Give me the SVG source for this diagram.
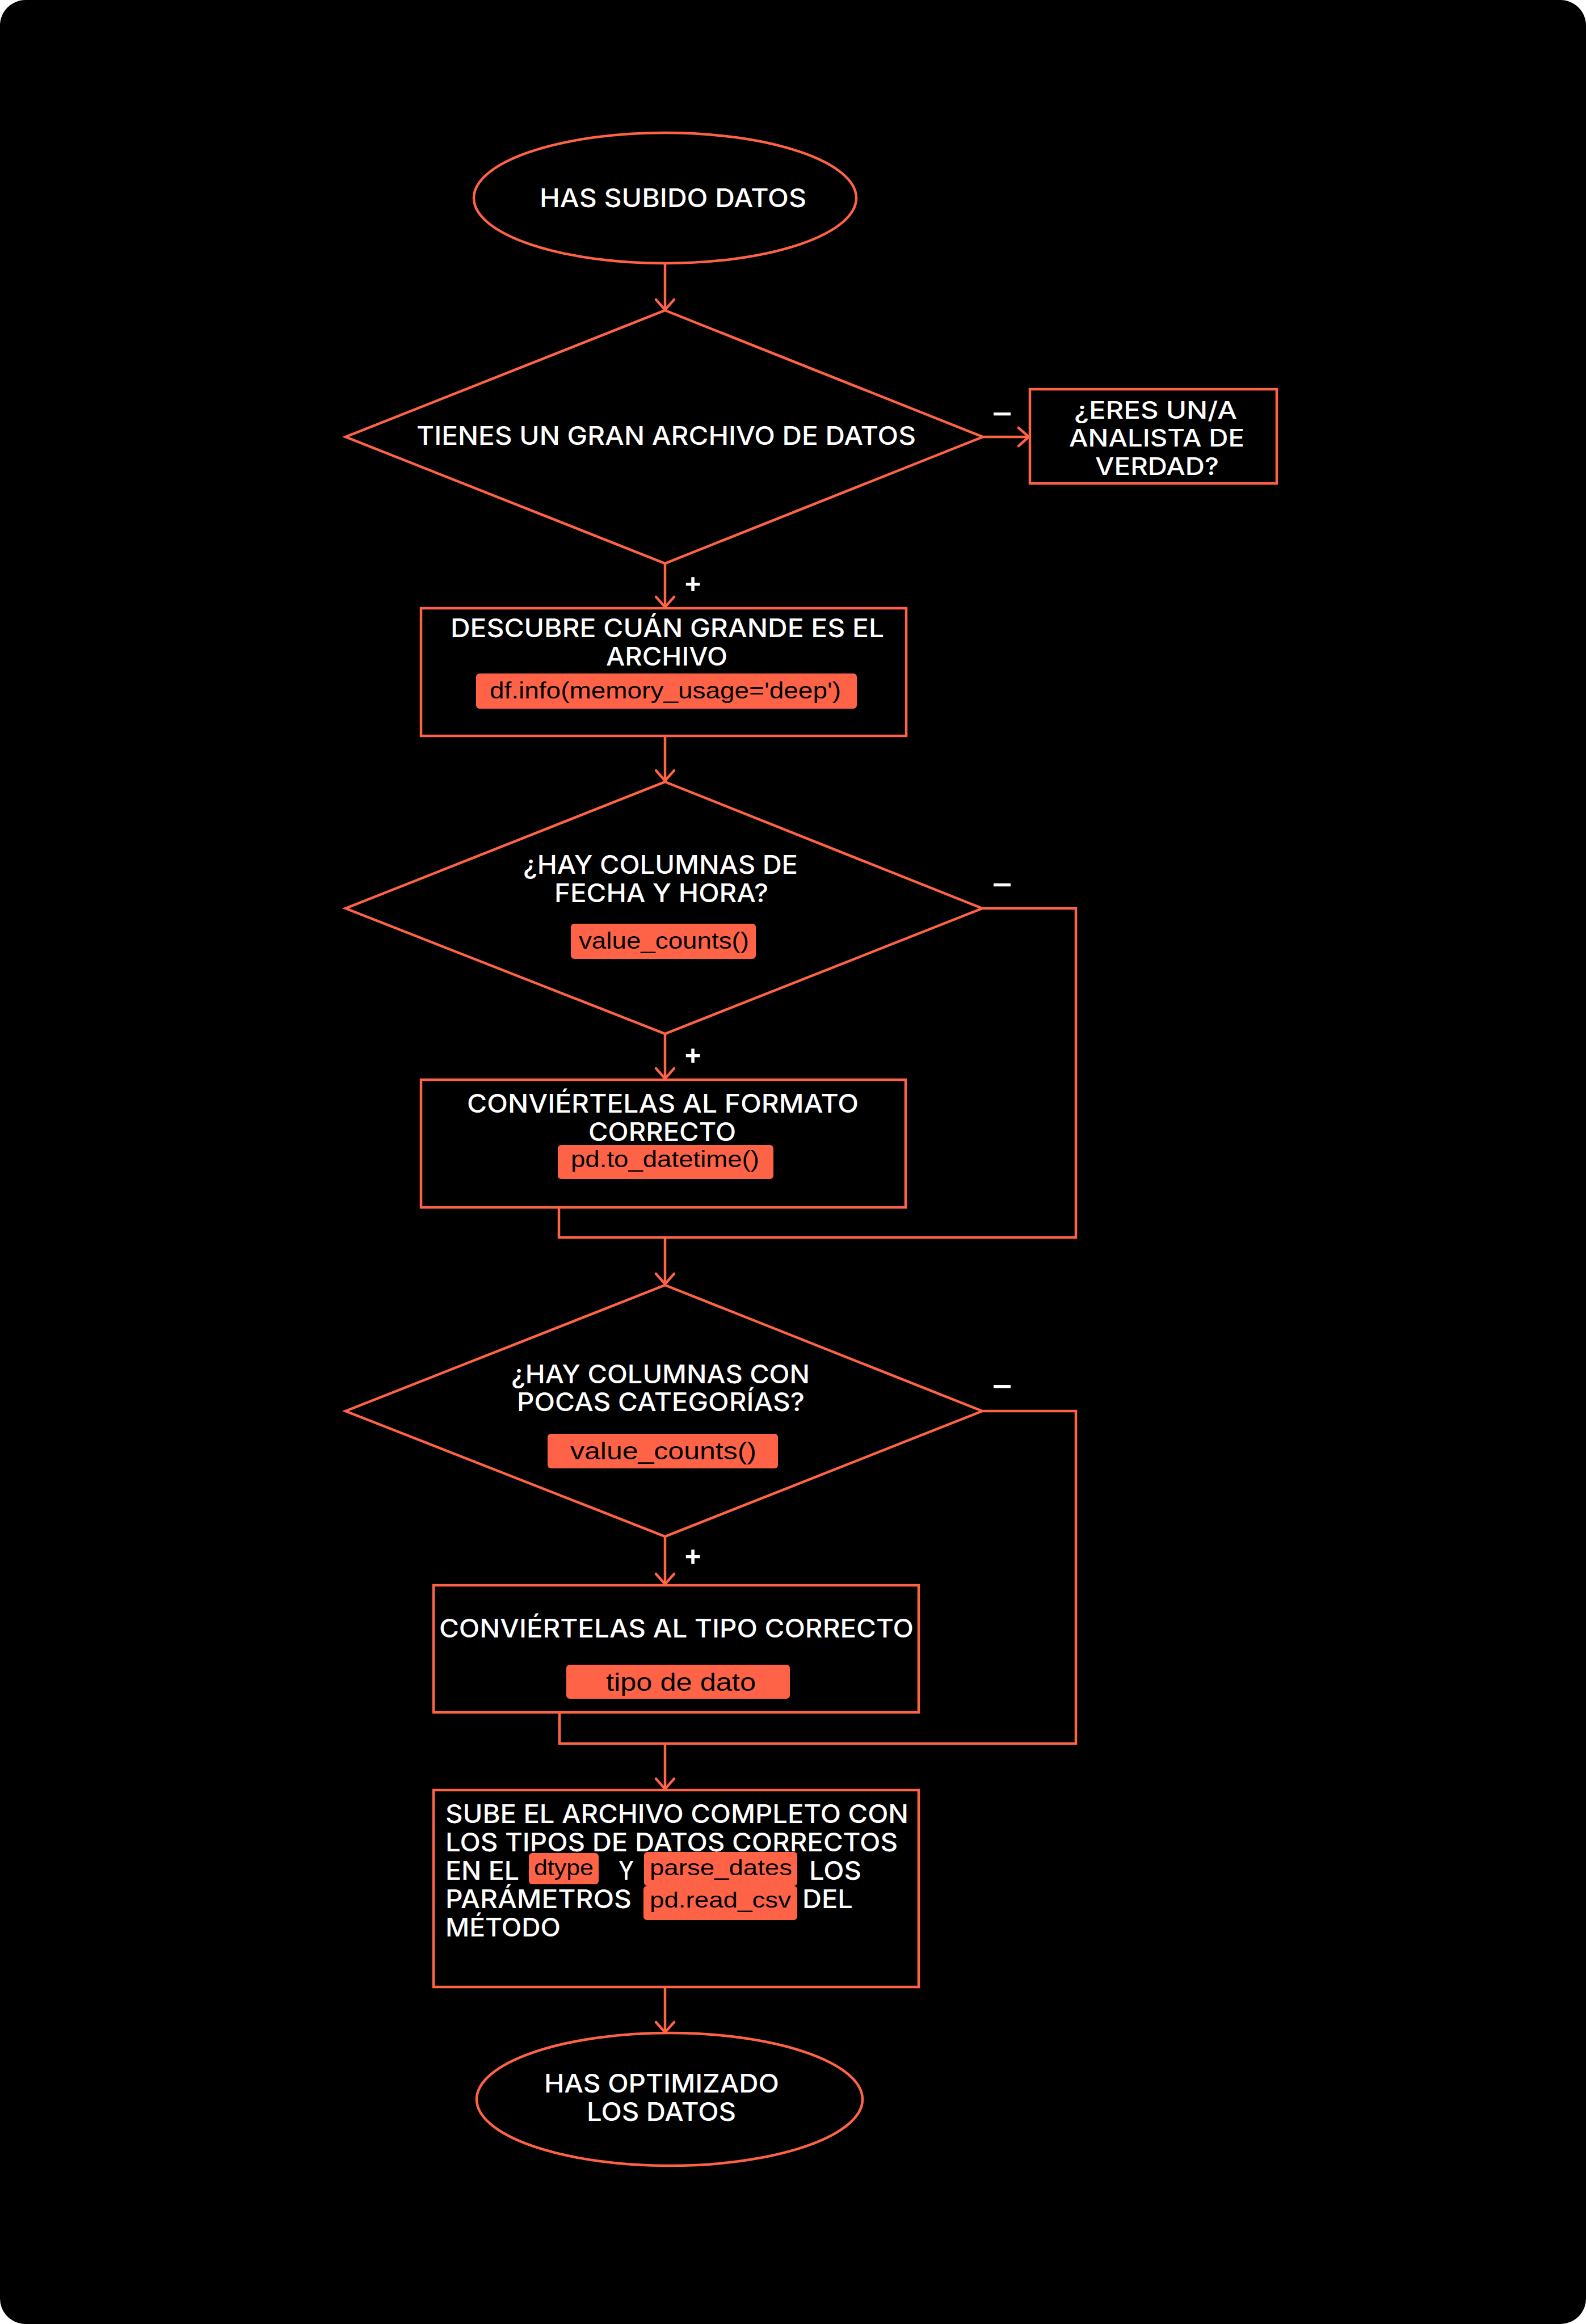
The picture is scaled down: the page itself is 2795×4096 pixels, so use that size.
<svg xmlns="http://www.w3.org/2000/svg" width="2795" height="4096" viewBox="0 0 2795 4096">
<style>
.sh{fill:none;stroke:#FF6347;stroke-width:4.5}
.cn{fill:none;stroke:#FF6347;stroke-width:4.5;stroke-linejoin:miter}
.t{font-family:Inter,"Liberation Sans",sans-serif;font-weight:500;fill:#fff;font-size:45px}
.s{font-size:42px}
.pill{fill:#FF6347}
.c{font-family:"Liberation Sans",Arial,sans-serif;fill:#000;font-size:40px}
.lb{font-family:Inter,"Liberation Sans",sans-serif;font-weight:600;fill:#fff;font-size:50px;text-anchor:middle}
</style>
<defs>
<marker id="ah" markerUnits="userSpaceOnUse" orient="auto" markerWidth="40" markerHeight="40" viewBox="-20 -20 40 40" refX="0" refY="0" overflow="visible">
<path d="M-18,-16 L0,0 L-18,16" fill="none" stroke="#FF6347" stroke-width="4.5" stroke-linecap="round" stroke-linejoin="round"/>
</marker>
</defs>
<rect width="2795" height="4096" fill="#fff"/>
<rect width="2795" height="4096" rx="45" fill="#000"/>

<g id="connectors">
<path class="cn" d="M1172,465 V546" marker-end="url(#ah)"/>
<path class="cn" d="M1732,770 H1813" marker-end="url(#ah)"/>
<path class="cn" d="M1172,993 V1070" marker-end="url(#ah)"/>
<path class="cn" d="M1172,1298 V1376" marker-end="url(#ah)"/>
<path class="cn" d="M1172,1823 V1901" marker-end="url(#ah)"/>
<path class="cn" d="M1732,1601 H1896 V2181 H985 V2128"/>
<path class="cn" d="M1172,2181 V2263" marker-end="url(#ah)"/>
<path class="cn" d="M1172,2708 V2792" marker-end="url(#ah)"/>
<path class="cn" d="M1732,2487 H1896 V3073 H986 V3018"/>
<path class="cn" d="M1172,3073 V3153" marker-end="url(#ah)"/>
<path class="cn" d="M1172,3502 V3582" marker-end="url(#ah)"/>
<text class="lb" x="1766" y="745" textLength="30" lengthAdjust="spacingAndGlyphs">–</text>
<text class="lb" x="1221" y="1044">+</text>
<text class="lb" x="1766" y="1575" textLength="30" lengthAdjust="spacingAndGlyphs">–</text>
<text class="lb" x="1221" y="1875">+</text>
<text class="lb" x="1766" y="2459" textLength="30" lengthAdjust="spacingAndGlyphs">–</text>
<text class="lb" x="1221" y="2758">+</text>
</g>

<g id="start">
<ellipse class="sh" cx="1172" cy="349" rx="337" ry="115"/>
<text class="t" x="951" y="365" textLength="470" lengthAdjust="spacingAndGlyphs">HAS SUBIDO DATOS</text>
</g>

<g id="d1">
<path class="sh" d="M1172,547 L1732,770 L1172,993 L609,770 Z"/>
<text class="t" x="734" y="784" textLength="880" lengthAdjust="spacingAndGlyphs">TIENES UN GRAN ARCHIVO DE DATOS</text>
</g>

<g id="analista">
<rect class="sh" x="1815" y="686" width="435" height="166"/>
<text class="t s" x="1893" y="738" textLength="287" lengthAdjust="spacingAndGlyphs">¿ERES UN/A</text>
<text class="t s" x="1884" y="787" textLength="309" lengthAdjust="spacingAndGlyphs">ANALISTA DE</text>
<text class="t s" x="1930" y="837" textLength="218" lengthAdjust="spacingAndGlyphs">VERDAD?</text>
</g>

<g id="descubre">
<rect class="sh" x="742" y="1072" width="855" height="225"/>
<text class="t" x="794" y="1123" textLength="764" lengthAdjust="spacingAndGlyphs">DESCUBRE CUÁN GRANDE ES EL</text>
<text class="t" x="1068" y="1173" textLength="214" lengthAdjust="spacingAndGlyphs">ARCHIVO</text>
<rect class="pill" x="839" y="1187" width="671" height="62" rx="6"/>
<text class="c" x="863" y="1231" textLength="619" lengthAdjust="spacingAndGlyphs">df.info(memory_usage='deep')</text>
</g>

<g id="d2">
<path class="sh" d="M1172,1378 L1731,1601 L1172,1822 L609,1601 Z"/>
<text class="t" x="922" y="1540" textLength="484" lengthAdjust="spacingAndGlyphs">¿HAY COLUMNAS DE</text>
<text class="t" x="977" y="1590" textLength="377" lengthAdjust="spacingAndGlyphs">FECHA Y HORA?</text>
<rect class="pill" x="1006" y="1628" width="326" height="62" rx="6"/>
<text class="c" x="1020" y="1672" textLength="300" lengthAdjust="spacingAndGlyphs">value_counts()</text>
</g>

<g id="conv1">
<rect class="sh" x="742" y="1903" width="854" height="225"/>
<text class="t" x="823" y="1961" textLength="690" lengthAdjust="spacingAndGlyphs">CONVIÉRTELAS AL FORMATO</text>
<text class="t" x="1037" y="2011" textLength="260" lengthAdjust="spacingAndGlyphs">CORRECTO</text>
<rect class="pill" x="983" y="2018" width="380" height="60" rx="6"/>
<text class="c" x="1006" y="2057" textLength="332" lengthAdjust="spacingAndGlyphs">pd.to_datetime()</text>
</g>

<g id="d3">
<path class="sh" d="M1172,2265 L1731,2487 L1172,2708 L609,2487 Z"/>
<text class="t" x="901" y="2438" textLength="526" lengthAdjust="spacingAndGlyphs">¿HAY COLUMNAS CON</text>
<text class="t" x="911" y="2487" textLength="507" lengthAdjust="spacingAndGlyphs">POCAS CATEGORÍAS?</text>
<rect class="pill" x="965" y="2527" width="406" height="61" rx="6"/>
<text class="c" x="1005" y="2572" textLength="328" lengthAdjust="spacingAndGlyphs" style="font-size:43px">value_counts()</text>
</g>

<g id="conv2">
<rect class="sh" x="764" y="2794" width="855" height="224"/>
<text class="t" x="774" y="2886" textLength="836" lengthAdjust="spacingAndGlyphs">CONVIÉRTELAS AL TIPO CORRECTO</text>
<rect class="pill" x="998" y="2934" width="394" height="60" rx="6"/>
<text class="c" x="1068" y="2980" textLength="264" lengthAdjust="spacingAndGlyphs" style="font-size:44px">tipo de dato</text>
</g>

<g id="sube">
<rect class="sh" x="764" y="3155" width="855" height="347"/>
<text class="t" x="785" y="3213" textLength="816" lengthAdjust="spacingAndGlyphs">SUBE EL ARCHIVO COMPLETO CON</text>
<text class="t" x="785" y="3263" textLength="797" lengthAdjust="spacingAndGlyphs">LOS TIPOS DE DATOS CORRECTOS</text>
<text class="t" x="785" y="3313" textLength="130" lengthAdjust="spacingAndGlyphs">EN EL</text>
<rect class="pill" x="932" y="3266" width="123" height="55" rx="6"/>
<text class="c" x="941" y="3305" textLength="105" lengthAdjust="spacingAndGlyphs" style="font-size:38px">dtype</text>
<text class="t" x="1090" y="3313" textLength="27" lengthAdjust="spacingAndGlyphs">Y</text>
<rect class="pill" x="1135" y="3264" width="270" height="60" rx="6"/>
<text class="c" x="1145" y="3305" textLength="251" lengthAdjust="spacingAndGlyphs" style="font-size:38px">parse_dates</text>
<text class="t" x="1426" y="3313" textLength="92" lengthAdjust="spacingAndGlyphs">LOS</text>
<text class="t" x="785" y="3363" textLength="328" lengthAdjust="spacingAndGlyphs">PARÁMETROS</text>
<rect class="pill" x="1134" y="3324" width="271" height="60" rx="6"/>
<text class="c" x="1145" y="3362" textLength="249" lengthAdjust="spacingAndGlyphs" style="font-size:38px">pd.read_csv</text>
<text class="t" x="1414" y="3363" textLength="89" lengthAdjust="spacingAndGlyphs">DEL</text>
<text class="t" x="785" y="3413" textLength="203" lengthAdjust="spacingAndGlyphs">MÉTODO</text>
</g>

<g id="end">
<ellipse class="sh" cx="1180" cy="3700" rx="340" ry="117"/>
<text class="t" x="959" y="3688" textLength="414" lengthAdjust="spacingAndGlyphs">HAS OPTIMIZADO</text>
<text class="t" x="1034" y="3738" textLength="263" lengthAdjust="spacingAndGlyphs">LOS DATOS</text>
</g>
</svg>
